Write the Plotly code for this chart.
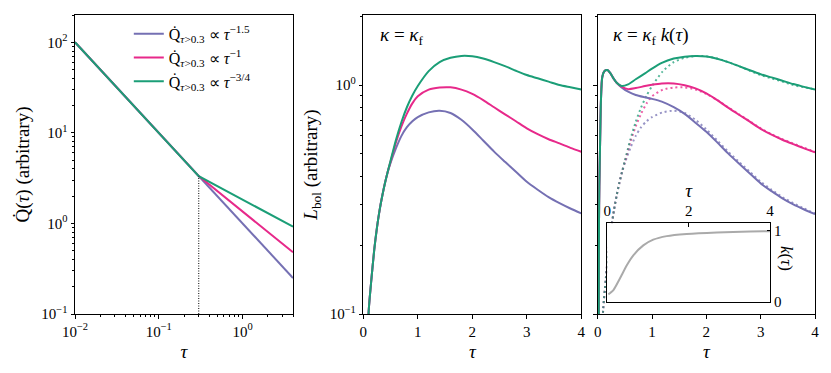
import plotly.graph_objects as go

# left panel: heating rate Q(tau), log-log
tau_q = [0.01, 0.3, 4.0]
q_steep = [100.0, 3.33, 0.25]
q_mid = [100.0, 3.33, 0.48]
q_shallow = [100.0, 3.33, 0.92]
tau_break = 0.3

# middle panel: L_bol with constant opacity
tau_l = [0.05, 0.1, 0.15, 0.2, 0.25, 0.3, 0.35, 0.4, 0.45, 0.5, 0.6, 0.7, 0.8, 0.9,
         1.0, 1.2, 1.4, 1.6, 1.8, 2.0, 2.2, 2.4, 2.6, 2.8, 3.0, 3.2, 3.4, 3.6, 3.8, 4.0]
l_steep = [0.05, 0.104, 0.143, 0.19, 0.238, 0.285, 0.33, 0.375, 0.418, 0.457, 0.53,
           0.60, 0.655, 0.695, 0.725, 0.76, 0.772, 0.755, 0.705, 0.64, 0.573, 0.512,
           0.462, 0.418, 0.378, 0.349, 0.324, 0.305, 0.289, 0.275]
l_mid = [0.05, 0.104, 0.143, 0.19, 0.238, 0.285, 0.33, 0.375, 0.42, 0.463, 0.563,
         0.66, 0.75, 0.832, 0.893, 0.955, 0.975, 0.977, 0.955, 0.915, 0.86, 0.80,
         0.745, 0.695, 0.647, 0.61, 0.58, 0.556, 0.532, 0.511]
l_shallow = [0.05, 0.104, 0.143, 0.19, 0.238, 0.285, 0.33, 0.375, 0.42, 0.467, 0.577,
             0.69, 0.80, 0.90, 0.99, 1.15, 1.26, 1.315, 1.34, 1.335, 1.305, 1.26,
             1.21, 1.155, 1.106, 1.07, 1.035, 1.0, 0.978, 0.957]

# right panel: L_bol with time-dependent opacity k(tau)
tau_k_l = [0.01, 0.02, 0.024, 0.03, 0.042, 0.06, 0.085, 0.13, 0.18, 0.23, 0.29,
           0.35, 0.44, 0.56, 0.7, 0.87, 1.0, 1.18, 1.4, 1.6, 1.8, 2.0, 2.2, 2.4,
           2.6, 2.8, 3.0, 3.2, 3.4, 3.6, 3.8, 4.0]
lk_steep = [0.03, 0.1, 0.25, 0.36, 0.52, 0.86, 1.087, 1.155, 1.163, 1.13, 1.07,
            1.023, 0.977, 0.935, 0.905, 0.884, 0.87, 0.846, 0.80, 0.748, 0.685,
            0.625, 0.562, 0.503, 0.454, 0.411, 0.372, 0.344, 0.32, 0.301, 0.286, 0.273]
lk_mid = [0.03, 0.1, 0.25, 0.36, 0.52, 0.86, 1.087, 1.155, 1.163, 1.13, 1.07,
          1.023, 0.985, 0.96, 0.97, 0.99, 1.003, 1.016, 1.016, 0.998, 0.967,
          0.92, 0.86, 0.797, 0.742, 0.692, 0.644, 0.607, 0.577, 0.552, 0.529, 0.508]
lk_shallow = [0.03, 0.1, 0.25, 0.36, 0.52, 0.86, 1.087, 1.155, 1.163, 1.13, 1.07,
              1.023, 0.99, 1.007, 1.06, 1.125, 1.18, 1.25, 1.305, 1.33, 1.34,
              1.333, 1.303, 1.26, 1.21, 1.16, 1.115, 1.08, 1.045, 1.01, 0.982, 0.955]

# inset: opacity factor k(tau)
tau_k = [0.025, 0.15, 0.31, 0.48, 0.64, 0.885, 1.13, 1.46, 1.95, 2.69, 3.51, 4.0]
k_vals = [0.103, 0.163, 0.326, 0.512, 0.651, 0.79, 0.87, 0.92, 0.95, 0.972, 0.986, 0.99]

names = ['Q̇<sub><i>τ</i>>0.3</sub> ∝ <i>τ</i><sup>−1.5</sup>',
         'Q̇<sub><i>τ</i>>0.3</sub> ∝ <i>τ</i><sup>−1</sup>',
         'Q̇<sub><i>τ</i>>0.3</sub> ∝ <i>τ</i><sup>−3/4</sup>']
colors = ['#7570b3', '#e7298a', '#1b9e77']

FONT = 'Times New Roman, Liberation Serif, serif'

fig = go.Figure()

for q, name, c in zip([q_steep, q_mid, q_shallow], names, colors):
    fig.add_trace(go.Scatter(x=tau_q, y=q, mode='lines', name=name,
                             line=dict(color=c, width=2), xaxis='x', yaxis='y'))
fig.add_trace(go.Scatter(x=[tau_break, tau_break], y=[0.1, q_steep[1]], mode='lines',
                         line=dict(color='black', width=1, dash='1px,1.5px'),
                         showlegend=False, xaxis='x', yaxis='y'))

for l, c in zip([l_steep, l_mid, l_shallow], colors):
    fig.add_trace(go.Scatter(x=tau_l, y=l, mode='lines', showlegend=False,
                             line=dict(color=c, width=2, shape='spline', smoothing=0.7),
                             xaxis='x2', yaxis='y2'))

for l, c in zip([l_steep, l_mid, l_shallow], colors):
    fig.add_trace(go.Scatter(x=tau_l, y=l, mode='lines', showlegend=False, opacity=0.75,
                             line=dict(color=c, width=2, dash='2px,3px',
                                       shape='spline', smoothing=0.7),
                             xaxis='x3', yaxis='y3'))
for l, c in zip([lk_steep, lk_mid, lk_shallow], colors):
    fig.add_trace(go.Scatter(x=tau_k_l, y=l, mode='lines', showlegend=False,
                             line=dict(color=c, width=2, shape='spline', smoothing=0.7),
                             xaxis='x3', yaxis='y3'))

fig.add_trace(go.Scatter(x=tau_k, y=k_vals, mode='lines', showlegend=False,
                         line=dict(color='#aaaaaa', width=2, shape='spline', smoothing=0.6),
                         xaxis='x4', yaxis='y4'))

axis_style = dict(showline=True, linecolor='black', linewidth=1, mirror=True,
                  ticks='outside', ticklen=3.5, tickwidth=1, tickcolor='black',
                  showgrid=False, zeroline=False, automargin=False,
                  tickfont=dict(family=FONT, size=15, color='black'))


def log_minor(lo, hi):
    vals = []
    for e in range(lo, hi):
        for m in range(2, 10):
            vals.append(m * 10 ** e)
    return dict(ticks='outside', ticklen=2, tickwidth=0.8, tickcolor='black',
                tickmode='array', tickvals=vals, showgrid=False)


ydom = [1 - 314 / 373, 1 - 15 / 373]
lbol_range = [-1, 0.306]
title_font = dict(family=FONT, size=19)

fig.update_layout(
    width=831, height=373,
    margin=dict(l=0, r=0, t=0, b=0),
    paper_bgcolor='white', plot_bgcolor='white',
    font=dict(family=FONT, size=15, color='black'),
    showlegend=True,
    legend=dict(x=0.155, y=0.955, xanchor='left', yanchor='top',
                bgcolor='rgba(0,0,0,0)', itemwidth=30, tracegroupgap=0,
                font=dict(family=FONT, size=16)),
    xaxis=dict(axis_style, type='log', domain=[75 / 831, 293 / 831],
               range=[-2, 0.602], anchor='y',
               tickvals=[0.01, 0.1, 1], ticktext=['10<sup>−2</sup>', '10<sup>−1</sup>', '10<sup>0</sup>'],
               minor=log_minor(-2, 1),
               title=dict(text='<i>τ</i>', standoff=6, font=title_font)),
    yaxis=dict(axis_style, type='log', domain=ydom, range=[-1, 2.301], anchor='x',
               tickvals=[0.1, 1, 10, 100],
               ticktext=['10<sup>−1</sup>', '10<sup>0</sup>', '10<sup>1</sup>', '10<sup>2</sup>'],
               minor=log_minor(-1, 3),
               title=dict(text='Q̇(<i>τ</i>) (arbitrary)', standoff=6, font=title_font)),
    xaxis2=dict(axis_style, domain=[363.3 / 831, 581.3 / 831], range=[0, 4], anchor='y2',
                tickvals=[0, 1, 2, 3, 4],
                title=dict(text='<i>τ</i>', standoff=6, font=title_font)),
    yaxis2=dict(axis_style, type='log', domain=ydom, range=lbol_range, anchor='x2',
                tickvals=[0.1, 1], ticktext=['10<sup>−1</sup>', '10<sup>0</sup>'],
                minor=log_minor(-1, 1),
                title=dict(text='<i>L</i><sub>bol</sub> (arbitrary)', standoff=6,
                           font=title_font)),
    xaxis3=dict(axis_style, domain=[597.7 / 831, 815 / 831], range=[0, 4], anchor='y3',
                tickvals=[0, 1, 2, 3, 4],
                title=dict(text='<i>τ</i>', standoff=6, font=title_font)),
    yaxis3=dict(axis_style, type='log', domain=ydom, range=lbol_range, anchor='x3',
                tickvals=[0.1, 1], showticklabels=False,
                minor=log_minor(-1, 1)),
    xaxis4=dict(axis_style, domain=[607.3 / 831, 770 / 831], range=[0, 4], anchor='y4',
                side='top', ticks='inside', tickvals=[0, 2, 4],
                title=dict(text='<i>τ</i>', standoff=0, font=title_font)),
    yaxis4=dict(axis_style, domain=[1 - 301.7 / 373, 1 - 223.3 / 373], range=[0, 1.1],
                anchor='x4', side='right', ticks='inside', tickvals=[0, 1]),
)

fig.add_annotation(text='<i>κ</i> = <i>κ</i><sub>f</sub>', xref='paper', yref='paper',
                   x=378 / 831, y=1 - 36 / 373, xanchor='left', yanchor='middle',
                   showarrow=False, font=dict(family=FONT, size=19))
fig.add_annotation(text='<i>κ</i> = <i>κ</i><sub>f</sub> <i>k</i>(<i>τ</i>)', xref='paper',
                   yref='paper', x=611 / 831, y=1 - 36 / 373, xanchor='left',
                   yanchor='middle', showarrow=False, font=dict(family=FONT, size=19))
fig.add_annotation(text='<i>k</i>(<i>τ</i>)', xref='paper', yref='paper',
                   x=787 / 831, y=1 - 258 / 373, xanchor='center', yanchor='middle',
                   textangle=90, showarrow=False, font=dict(family=FONT, size=17))

# page body has a default 8px margin; drop it so the figure fills the window
fig.write_html('out.html', config={'displayModeBar': False},
               post_script="document.body.style.margin = '0';")
